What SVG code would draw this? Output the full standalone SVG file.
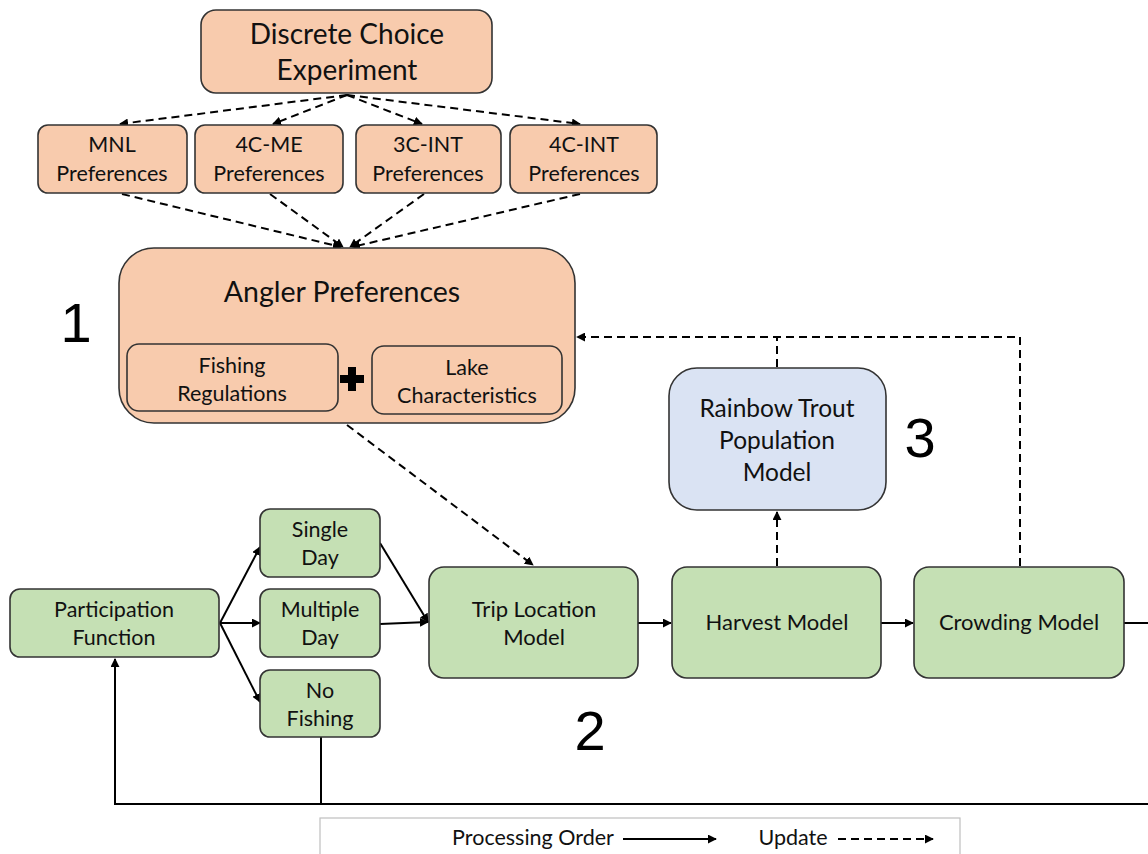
<svg xmlns="http://www.w3.org/2000/svg" width="1148" height="854" viewBox="0 0 1148 854">
<defs>
<marker id="ah" viewBox="0 0 10 10" refX="9" refY="5" markerWidth="9" markerHeight="9" markerUnits="userSpaceOnUse" orient="auto"><path d="M0,0 L10,5 L0,10 z" fill="#000"/></marker>
<style>
.t{font-family:Lato,"Liberation Sans",sans-serif;fill:#111;text-anchor:middle}
.or{fill:#f8cbad;stroke:#333;stroke-width:1.6}
.gr{fill:#c5e0b4;stroke:#333;stroke-width:1.6}
.bl{fill:#dae3f3;stroke:#333;stroke-width:1.6}
.s{fill:none;stroke:#000;stroke-width:2}
.d{fill:none;stroke:#000;stroke-width:2;stroke-dasharray:8 5}
.num{font-family:"Liberation Sans",sans-serif;font-size:56px;fill:#000;text-anchor:middle}
</style>
</defs>
<rect width="1148" height="854" fill="#fff"/>

<g id="connectors">
<path class="d" d="M347,95 L120,124" marker-end="url(#ah)"/>
<path class="d" d="M347,95 L273,124" marker-end="url(#ah)"/>
<path class="d" d="M347,95 L422,124" marker-end="url(#ah)"/>
<path class="d" d="M347,95 L580,124" marker-end="url(#ah)"/>
<path class="d" d="M122,194 L341,247" marker-end="url(#ah)"/>
<path class="d" d="M270,194 L343,247" marker-end="url(#ah)"/>
<path class="d" d="M424,194 L350,247" marker-end="url(#ah)"/>
<path class="d" d="M580,194 L352,247" marker-end="url(#ah)"/>
<path class="d" d="M347,425 L533,565" marker-end="url(#ah)"/>
<path class="d" d="M777,566 L777,512" marker-end="url(#ah)"/>
<path class="d" d="M777,367 L777,337"/>
<path class="d" d="M1020,566 L1020,337 L577,337" marker-end="url(#ah)"/>
<path class="s" d="M220,623 L260,547" marker-end="url(#ah)"/>
<path class="s" d="M220,623 L260,623" marker-end="url(#ah)"/>
<path class="s" d="M220,623 L260,702" marker-end="url(#ah)"/>
<path class="s" d="M380,543 L428,622" marker-end="url(#ah)"/>
<path class="s" d="M380,624 L428,622" marker-end="url(#ah)"/>
<path class="s" d="M638,623 L671,623" marker-end="url(#ah)"/>
<path class="s" d="M881,623 L913,623" marker-end="url(#ah)"/>
<path class="s" d="M1124,623 L1148,623"/>
<path class="s" d="M1148,804 L115,804 L115,659" marker-end="url(#ah)"/>
<path class="s" d="M321,737 L321,804"/>
</g>

<g id="dce"><rect class="or" x="201" y="10" width="291" height="83" rx="15"/>
<text class="t" x="347" y="44" font-size="28">Discrete Choice</text>
<text class="t" x="347" y="80" font-size="28">Experiment</text></g>

<g id="mnl"><rect class="or" x="38" y="125" width="149" height="68" rx="10"/>
<text class="t" x="112" y="152" font-size="21.5">MNL</text><text class="t" x="112" y="181" font-size="21.5">Preferences</text></g>
<g id="me4"><rect class="or" x="195" y="125" width="148" height="68" rx="10"/>
<text class="t" x="269" y="152" font-size="21.5">4C-ME</text><text class="t" x="269" y="181" font-size="21.5">Preferences</text></g>
<g id="int3"><rect class="or" x="356" y="125" width="145" height="68" rx="10"/>
<text class="t" x="428" y="152" font-size="21.5">3C-INT</text><text class="t" x="428" y="181" font-size="21.5">Preferences</text></g>
<g id="int4"><rect class="or" x="510" y="125" width="147" height="68" rx="10"/>
<text class="t" x="584" y="152" font-size="21.5">4C-INT</text><text class="t" x="584" y="181" font-size="21.5">Preferences</text></g>

<g id="angler"><rect class="or" x="119" y="248" width="456" height="175" rx="35"/>
<text class="t" x="342" y="302" font-size="28.5">Angler Preferences</text>
<rect class="or" x="127" y="344" width="211" height="67" rx="12"/>
<text class="t" x="232" y="373" font-size="21.5">Fishing</text><text class="t" x="232" y="401" font-size="21.5">Regulations</text>
<rect x="348" y="367" width="8" height="24" fill="#000"/><rect x="340" y="375" width="24" height="8" fill="#000"/>
<rect class="or" x="372" y="346" width="190" height="68" rx="12"/>
<text class="t" x="467" y="375" font-size="21.5">Lake</text><text class="t" x="467" y="403" font-size="21.5">Characteristics</text></g>

<g id="rainbow"><rect class="bl" x="669" y="368" width="217" height="142" rx="28"/>
<text class="t" x="777" y="417" font-size="24.5">Rainbow Trout</text>
<text class="t" x="777" y="449" font-size="24.5">Population</text>
<text class="t" x="777" y="481" font-size="24.5">Model</text></g>

<g id="participation"><rect class="gr" x="10" y="589" width="209" height="68" rx="10"/>
<text class="t" x="114" y="617" font-size="21.5">Participation</text><text class="t" x="114" y="645" font-size="21.5">Function</text></g>
<g id="single"><rect class="gr" x="260" y="509" width="120" height="68" rx="10"/>
<text class="t" x="320" y="537" font-size="21.5">Single</text><text class="t" x="320" y="565" font-size="21.5">Day</text></g>
<g id="multiple"><rect class="gr" x="260" y="589" width="120" height="68" rx="10"/>
<text class="t" x="320" y="617" font-size="21.5">Multiple</text><text class="t" x="320" y="645" font-size="21.5">Day</text></g>
<g id="nofishing"><rect class="gr" x="260" y="670" width="120" height="67" rx="10"/>
<text class="t" x="320" y="698" font-size="21.5">No</text><text class="t" x="320" y="726" font-size="21.5">Fishing</text></g>
<g id="trip"><rect class="gr" x="429" y="567" width="209" height="111" rx="15"/>
<text class="t" x="534" y="617" font-size="22">Trip Location</text><text class="t" x="534" y="645" font-size="22">Model</text></g>
<g id="harvest"><rect class="gr" x="672" y="567" width="209" height="111" rx="15"/>
<text class="t" x="777" y="630" font-size="22">Harvest Model</text></g>
<g id="crowding"><rect class="gr" x="914" y="567" width="210" height="111" rx="15"/>
<text class="t" x="1019" y="630" font-size="22">Crowding Model</text></g>

<text class="num" x="76" y="342">1</text>
<text class="num" x="590" y="750">2</text>
<text class="num" x="920" y="457">3</text>

<g id="legend"><rect x="320" y="818" width="640" height="50" fill="#fff" stroke="#bfbfbf" stroke-width="1.2"/>
<text class="t" x="533" y="845" font-size="21.5">Processing Order</text>
<path class="s" d="M623,839 L716,839" marker-end="url(#ah)"/>
<text class="t" x="793" y="845" font-size="21.5">Update</text>
<path class="d" d="M838,839 L933,839" marker-end="url(#ah)" stroke-dasharray="8 6"/></g>
</svg>
